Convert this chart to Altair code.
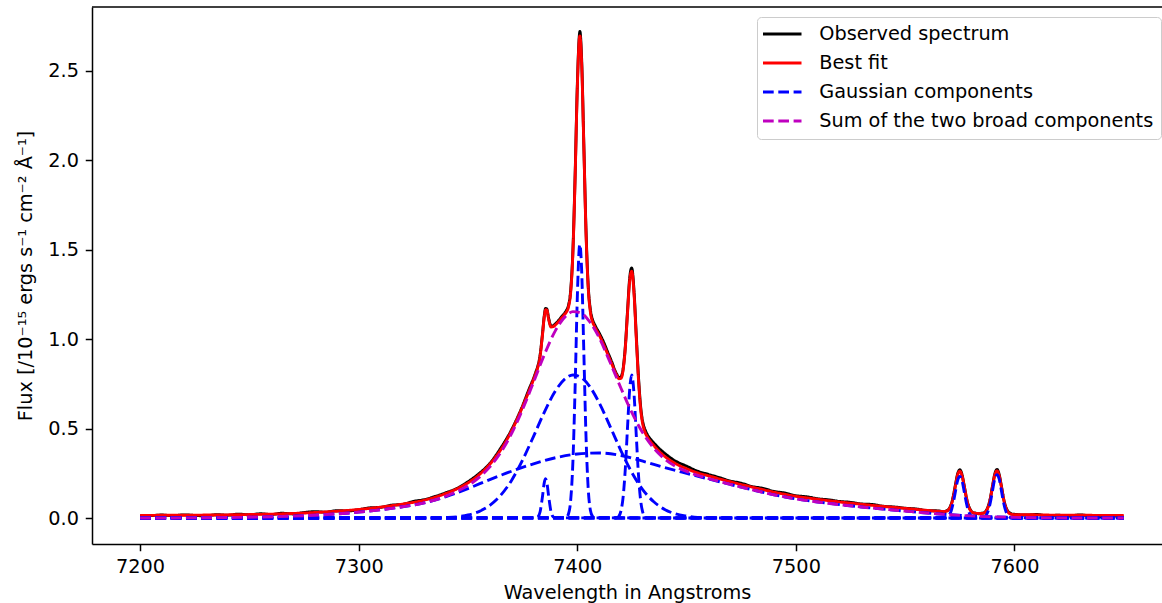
import altair as alt
import pandas as pd

# ---------------- data ----------------
# Observed spectrum (segments)
obs_left_wl = [7200, 7205, 7210, 7215, 7220, 7225, 7230, 7235, 7240, 7245, 7250, 7255,
               7260, 7265, 7270, 7275, 7280, 7285, 7290, 7295, 7300, 7305, 7310, 7315,
               7320, 7325, 7330, 7335, 7340, 7345, 7350, 7355, 7360, 7365, 7370]
obs_left_flux = [0.012, 0.014, 0.017, 0.013, 0.018, 0.015, 0.012, 0.019, 0.016, 0.022, 0.018, 0.024,
                 0.020, 0.027, 0.023, 0.031, 0.036, 0.033, 0.041, 0.040, 0.047, 0.057, 0.060, 0.072,
                 0.076, 0.093, 0.103, 0.121, 0.142, 0.166, 0.203, 0.248, 0.305, 0.391, 0.495]
obs_core_wl = [7375, 7378, 7380, 7381, 7382, 7383, 7384, 7385, 7385.5, 7386, 7387, 7388, 7389,
               7390, 7391, 7392, 7393, 7394, 7395, 7396, 7397, 7398, 7399, 7400, 7401, 7401.2,
               7402, 7403, 7404, 7405, 7406, 7407, 7408, 7410, 7412, 7414, 7416, 7417, 7418,
               7419, 7420, 7421, 7422, 7423, 7424, 7424.9, 7426, 7427, 7428, 7429, 7430, 7431, 7432]
obs_core_flux = [0.628, 0.722, 0.781, 0.815, 0.851, 0.912, 1.020, 1.140, 1.172, 1.170, 1.112, 1.074, 1.075,
                 1.086, 1.098, 1.112, 1.128, 1.142, 1.160, 1.190, 1.275, 1.495, 1.910, 2.410, 2.705, 2.720,
                 2.565, 2.090, 1.610, 1.300, 1.165, 1.108, 1.080, 1.035, 0.985, 0.925, 0.866, 0.832, 0.806,
                 0.785, 0.790, 0.838, 0.962, 1.160, 1.345, 1.398, 1.262, 1.020, 0.790, 0.622, 0.535, 0.494, 0.468]
obs_right_wl = [7435, 7440, 7445, 7450, 7455, 7460, 7465, 7470, 7475, 7480, 7485, 7490, 7495,
                7500, 7505, 7510, 7515, 7520, 7525, 7530, 7535, 7540, 7545, 7550, 7555, 7560, 7565]
obs_right_flux = [0.420, 0.362, 0.318, 0.290, 0.262, 0.244, 0.226, 0.207, 0.195, 0.176, 0.166, 0.149, 0.140,
                  0.125, 0.119, 0.108, 0.102, 0.093, 0.088, 0.079, 0.076, 0.066, 0.062, 0.055, 0.051, 0.042, 0.040]
obs_lines_wl = [7568, 7569, 7570, 7571, 7572, 7573, 7574, 7575, 7576, 7577, 7578, 7579, 7580, 7581, 7582,
                7584, 7585, 7586, 7587, 7588, 7589, 7590, 7591, 7592, 7593, 7594, 7595, 7596, 7597, 7598, 7599]
obs_lines_flux = [0.036, 0.041, 0.050, 0.074, 0.121, 0.186, 0.247, 0.270, 0.244, 0.182, 0.117, 0.069, 0.043, 0.030, 0.028,
                  0.024, 0.027, 0.029, 0.040, 0.066, 0.114, 0.182, 0.246, 0.272, 0.244, 0.181, 0.112, 0.064, 0.038, 0.028, 0.022]
obs_tail_wl = [7600, 7605, 7610, 7615, 7620, 7625, 7630, 7635, 7640, 7645, 7650]
obs_tail_flux = [0.021, 0.017, 0.020, 0.013, 0.016, 0.011, 0.018, 0.010, 0.007, 0.012, 0.006]

# Best fit
fit_wl = [7200, 7220, 7240, 7260, 7280, 7300, 7310, 7320, 7330, 7340, 7345, 7350, 7355, 7360, 7365, 7370,
          7375, 7378, 7380, 7381, 7382, 7383, 7384, 7385, 7385.5, 7386, 7387, 7388, 7389, 7390, 7391, 7392,
          7393, 7394, 7395, 7396, 7397, 7398, 7399, 7400, 7401, 7401.2, 7402, 7403, 7404, 7405, 7406, 7407,
          7408, 7410, 7412, 7414, 7416, 7417, 7418, 7419, 7420, 7421, 7422, 7423, 7424, 7424.9, 7426, 7427,
          7428, 7429, 7430, 7431, 7432, 7435, 7440, 7445, 7450, 7455, 7460, 7470, 7480, 7490, 7500, 7510,
          7520, 7530, 7540, 7550, 7560, 7565, 7568, 7569, 7570, 7571, 7572, 7573, 7574, 7575, 7576, 7577,
          7578, 7579, 7580, 7581, 7582, 7584, 7585, 7586, 7587, 7588, 7589, 7590, 7591, 7592, 7593, 7594,
          7595, 7596, 7597, 7598, 7599, 7600, 7610, 7620, 7650]
fit_flux = [0.015, 0.016, 0.018, 0.022, 0.031, 0.048, 0.061, 0.078, 0.100, 0.138, 0.164, 0.197, 0.241, 0.301, 0.382, 0.489,
            0.623, 0.713, 0.775, 0.808, 0.845, 0.905, 1.014, 1.134, 1.165, 1.164, 1.105, 1.068, 1.070, 1.080, 1.092, 1.106,
            1.121, 1.136, 1.151, 1.181, 1.265, 1.484, 1.896, 2.395, 2.687, 2.695, 2.545, 2.078, 1.594, 1.289, 1.151, 1.097,
            1.069, 1.024, 0.971, 0.914, 0.856, 0.826, 0.800, 0.779, 0.781, 0.830, 0.955, 1.148, 1.330, 1.380, 1.246, 1.005,
            0.774, 0.609, 0.522, 0.480, 0.455, 0.406, 0.345, 0.304, 0.276, 0.253, 0.236, 0.203, 0.173, 0.145, 0.122, 0.105,
            0.090, 0.077, 0.065, 0.054, 0.043, 0.038, 0.037, 0.039, 0.048, 0.071, 0.117, 0.181, 0.241, 0.262, 0.238, 0.179,
            0.114, 0.066, 0.041, 0.031, 0.027, 0.025, 0.026, 0.028, 0.038, 0.064, 0.111, 0.178, 0.241, 0.264, 0.238, 0.177,
            0.109, 0.060, 0.034, 0.024, 0.020, 0.019, 0.018, 0.016, 0.015]

# Gaussian components
wide_wl = [7200, 7220, 7240, 7260, 7280, 7300, 7310, 7320, 7330, 7340, 7350, 7360, 7370, 7380, 7390, 7400,
           7410, 7420, 7430, 7440, 7450, 7460, 7470, 7480, 7490, 7500, 7510, 7520, 7530, 7540, 7550, 7560,
           7570, 7580, 7590, 7600, 7620, 7650]
wide_flux = [0.000, 0.001, 0.003, 0.007, 0.016, 0.033, 0.046, 0.063, 0.085, 0.120, 0.165, 0.215, 0.262, 0.303, 0.337, 0.358,
             0.364, 0.350, 0.318, 0.282, 0.250, 0.219, 0.188, 0.158, 0.130, 0.107, 0.090, 0.075, 0.062, 0.050, 0.039, 0.028,
             0.019, 0.012, 0.007, 0.004, 0.001, 0.000]
core_wl = [7200, 7330, 7340, 7345, 7350, 7355, 7360, 7365, 7370, 7375, 7380, 7385, 7390, 7395, 7398,
           7402, 7406, 7410, 7415, 7420, 7425, 7430, 7435, 7440, 7445, 7450, 7455, 7460, 7470, 7650]
core_flux = [0.000, 0.000, 0.003, 0.007, 0.017, 0.036, 0.071, 0.128, 0.212, 0.325, 0.457, 0.594, 0.711, 0.784, 0.800,
             0.784, 0.730, 0.645, 0.513, 0.376, 0.254, 0.158, 0.091, 0.048, 0.023, 0.011, 0.004, 0.002, 0.000, 0.000]
l7386_wl = [7200, 7381, 7382, 7383, 7384, 7385, 7385.5, 7386, 7387, 7388, 7389, 7390, 7650]
l7386_flux = [0.0, 0.001, 0.006, 0.035, 0.113, 0.204, 0.220, 0.204, 0.113, 0.035, 0.006, 0.001, 0.0]
l7401_wl = [7200, 7394, 7395, 7396, 7397, 7398, 7399, 7400, 7401, 7401.2, 7402, 7403, 7404, 7405, 7406, 7407, 7408, 7650]
l7401_flux = [0.0, 0.001, 0.004, 0.024, 0.101, 0.315, 0.725, 1.225, 1.521, 1.530, 1.386, 0.928, 0.456, 0.165, 0.044, 0.009, 0.001, 0.0]
l7425_wl = [7200, 7418, 7419, 7420, 7421, 7422, 7423, 7424, 7424.9, 7426, 7427, 7428, 7429, 7430, 7431, 7432, 7650]
l7425_flux = [0.0, 0.002, 0.010, 0.040, 0.120, 0.280, 0.510, 0.723, 0.800, 0.688, 0.461, 0.241, 0.098, 0.031, 0.008, 0.001, 0.0]
l7575_wl = [7200, 7568, 7569, 7570, 7571, 7572, 7573, 7574, 7575, 7576, 7577, 7578, 7579, 7580, 7581, 7582, 7650]
l7575_flux = [0.0, 0.001, 0.004, 0.014, 0.038, 0.085, 0.149, 0.210, 0.232, 0.210, 0.149, 0.085, 0.038, 0.014, 0.004, 0.001, 0.0]
l7592_wl = [7200, 7585, 7586, 7587, 7588, 7589, 7590, 7591, 7592, 7593, 7594, 7595, 7596, 7597, 7598, 7599, 7650]
l7592_flux = [0.0, 0.001, 0.004, 0.014, 0.040, 0.088, 0.156, 0.219, 0.242, 0.219, 0.156, 0.088, 0.040, 0.014, 0.004, 0.001, 0.0]

# Sum of the two broad components
sum_wl = [7200, 7220, 7240, 7260, 7280, 7300, 7310, 7320, 7330, 7340, 7345, 7350, 7355, 7360, 7365, 7370, 7375,
          7380, 7385, 7390, 7395, 7398, 7402, 7406, 7410, 7415, 7420, 7425, 7430, 7435, 7440, 7445, 7450, 7455,
          7460, 7470, 7480, 7490, 7500, 7510, 7520, 7530, 7540, 7550, 7560, 7570, 7580, 7590, 7600, 7620, 7650]
sum_flux = [0.000, 0.001, 0.003, 0.007, 0.016, 0.033, 0.046, 0.063, 0.085, 0.123, 0.149, 0.182, 0.226, 0.286, 0.367, 0.474, 0.608,
            0.760, 0.915, 1.048, 1.132, 1.154, 1.144, 1.092, 1.009, 0.871, 0.726, 0.589, 0.476, 0.391, 0.330, 0.289, 0.261, 0.238,
            0.221, 0.188, 0.158, 0.130, 0.107, 0.090, 0.075, 0.062, 0.050, 0.039, 0.028, 0.019, 0.012, 0.007, 0.004, 0.001, 0.000]

series_names = ["Observed spectrum", "Best fit", "Gaussian components", "Sum of the two broad components"]
series_colors = ["#000000", "#ff0000", "#0000ff", "#bf00bf"]
series_dashes = [[1, 0], [1, 0], [10.7, 4.6], [10.7, 4.6]]
x_ticks = [7200, 7300, 7400, 7500, 7600]
y_ticks = [0.0, 0.5, 1.0, 1.5, 2.0, 2.5]


def frame(wl, flux, series, curve):
    return pd.DataFrame({"wl": wl, "flux": flux, "series": series, "curve": curve})


obs_df = pd.concat([
    frame(obs_left_wl, obs_left_flux, series_names[0], "obs"),
    frame(obs_core_wl, obs_core_flux, series_names[0], "obs"),
    frame(obs_right_wl, obs_right_flux, series_names[0], "obs"),
    frame(obs_lines_wl, obs_lines_flux, series_names[0], "obs"),
    frame(obs_tail_wl, obs_tail_flux, series_names[0], "obs"),
], ignore_index=True)
fit_df = frame(fit_wl, fit_flux, series_names[1], "fit")
comp_df = pd.concat([
    frame(wide_wl, wide_flux, series_names[2], "wide"),
    frame(core_wl, core_flux, series_names[2], "core"),
    frame(l7386_wl, l7386_flux, series_names[2], "l7386"),
    frame(l7401_wl, l7401_flux, series_names[2], "l7401"),
    frame(l7425_wl, l7425_flux, series_names[2], "l7425"),
    frame(l7575_wl, l7575_flux, series_names[2], "l7575"),
    frame(l7592_wl, l7592_flux, series_names[2], "l7592"),
], ignore_index=True)
sum_df = frame(sum_wl, sum_flux, series_names[3], "sum")

PLOT_W, PLOT_H = 1070, 537
FONT = "DejaVu Sans"
FS = 19.3

x_enc = alt.X("wl:Q",
              scale=alt.Scale(domain=[7178, 7667.5], nice=False, zero=False),
              axis=alt.Axis(values=x_ticks, format="d", title="Wavelength in Angstroms"))
y_enc = alt.Y("flux:Q",
              scale=alt.Scale(domain=[-0.145, 2.857], nice=False, zero=False),
              axis=alt.Axis(values=y_ticks, format=".1f",
                            title="Flux [/10⁻¹⁵ ergs s⁻¹ cm⁻² Å⁻¹]"))
color_enc = alt.Color("series:N",
                      scale=alt.Scale(domain=series_names, range=series_colors),
                      legend=alt.Legend(title=None, orient="none", legendX=665, legendY=10,
                                        direction="vertical",
                                        symbolType="M-2.265,0H2.265", symbolSize=289,
                                        symbolStrokeWidth=2.9, symbolOffset=8.25,
                                        labelOffset=27, rowPadding=8, padding=7,
                                        labelFont=FONT, labelFontSize=FS, labelColor="black",
                                        labelLimit=600,
                                        strokeColor="#cccccc", fillColor="rgba(255,255,255,0.8)",
                                        cornerRadius=4))
dash_enc = alt.StrokeDash("series:N",
                          scale=alt.Scale(domain=series_names, range=series_dashes),
                          legend=alt.Legend(title=None, orient="none", legendX=665, legendY=10))


def line_layer(df):
    return alt.Chart(df).mark_line(strokeWidth=2.9, interpolate="monotone").encode(
        x=x_enc, y=y_enc, color=color_enc, strokeDash=dash_enc, detail="curve:N")


top_spine = alt.Chart(pd.DataFrame({"edge": ["top"]})).mark_rule(color="black", strokeWidth=1.5).encode(
    x=alt.value(0), x2=alt.value(PLOT_W), y=alt.value(0))

chart = alt.layer(
    line_layer(obs_df),
    line_layer(fit_df),
    line_layer(comp_df),
    line_layer(sum_df),
    top_spine,
).properties(
    width=PLOT_W, height=PLOT_H,
    padding={"left": 92, "top": 7, "right": 0, "bottom": 59},
    autosize=alt.AutoSizeParams(type="none"),
    background="white",
).configure_view(
    stroke=None
).configure_axis(
    domainColor="black", domainWidth=1.5, tickColor="black", tickWidth=1.5, tickSize=6.75,
    labelPadding=6.75, labelFont=FONT, labelFontSize=FS, labelColor="black", labelFlush=False,
    titleFont=FONT, titleFontSize=FS, titleFontWeight="normal", titleColor="black", grid=False
).configure_axisX(
    titlePadding=7
).configure_axisY(
    titlePadding=12
)

chart.save("out.html", embed_options={"renderer": "svg", "actions": False})
